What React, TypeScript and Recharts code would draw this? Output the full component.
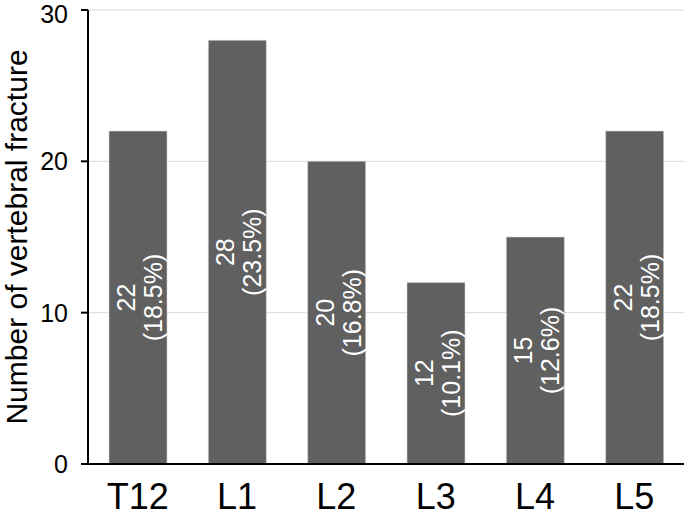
import { BarChart, Bar, XAxis, YAxis, CartesianGrid, LabelList } from 'recharts';

const levels = ['T12', 'L1', 'L2', 'L3', 'L4', 'L5'];
const counts = [22, 28, 20, 12, 15, 22];
const percents = ['18.5', '23.5', '16.8', '10.1', '12.6', '18.5'];
const yTicks = [0, 10, 20, 30];

const data = levels.map((level, i) => ({ level, count: counts[i], pct: percents[i] }));

const FONT = '"Liberation Sans", Arial, sans-serif';

function BarText(props: any) {
  const { x, y, width, height, index } = props;
  const cx = Number(x) + Number(width) / 2;
  const cy = Number(y) + Number(height) / 2;
  const d = data[index];
  return (
    <g transform={`rotate(-90, ${cx}, ${cy})`} fill="#fff" fontSize={25} fontFamily={FONT}>
      <text x={cx} y={cy - 12} textAnchor="middle" dominantBaseline="central">{d.count}</text>
      <text x={cx} y={cy + 15} textAnchor="middle" dominantBaseline="central">({d.pct}%)</text>
    </g>
  );
}

function YLabel(props: any) {
  const { viewBox } = props;
  const cy = viewBox.y + viewBox.height / 2;
  return (
    <text
      x={27}
      y={cy}
      transform={`rotate(-90, 27, ${cy})`}
      textAnchor="middle"
      fontSize={30}
      fontFamily={FONT}
      fill="#000"
    >
      Number of vertebral fracture
    </text>
  );
}

export default function App() {
  return (
    <div style={{ position: 'absolute', left: 0, top: 0, background: '#fff' }}>
      <BarChart width={685} height={514} data={data} margin={{ top: 10, right: 1, left: 0, bottom: 0 }}>
        <CartesianGrid vertical={false} stroke="#d9d9d9" strokeWidth={1} />
        <XAxis
          dataKey="level"
          height={50}
          tickLine={false}
          tickSize={0}
          tickMargin={19}
          axisLine={{ stroke: '#000', strokeWidth: 2 }}
          tick={{ fill: '#000', fontSize: 36, fontFamily: FONT }}
        />
        <XAxis xAxisId="top" orientation="top" height={0} tick={false} tickLine={false} axisLine={{ stroke: '#000', strokeWidth: 2 }} />
        <YAxis
          width={88}
          domain={[0, 30]}
          ticks={yTicks}
          tickSize={7}
          tickMargin={13}
          axisLine={{ stroke: '#000', strokeWidth: 2 }}
          tickLine={{ stroke: '#000', strokeWidth: 2 }}
          tick={{ fill: '#000', fontSize: 25, fontFamily: FONT }}
          label={{ content: YLabel }}
        />
        <YAxis yAxisId="right" orientation="right" width={0} tick={false} tickLine={false} axisLine={{ stroke: '#000', strokeWidth: 2 }} />
        <Bar dataKey="count" fill="#606060" stroke="#d4d4d4" strokeWidth={0.6} barSize={58} isAnimationActive={false}>
          <LabelList dataKey="pct" content={BarText} />
        </Bar>
      </BarChart>
    </div>
  );
}
